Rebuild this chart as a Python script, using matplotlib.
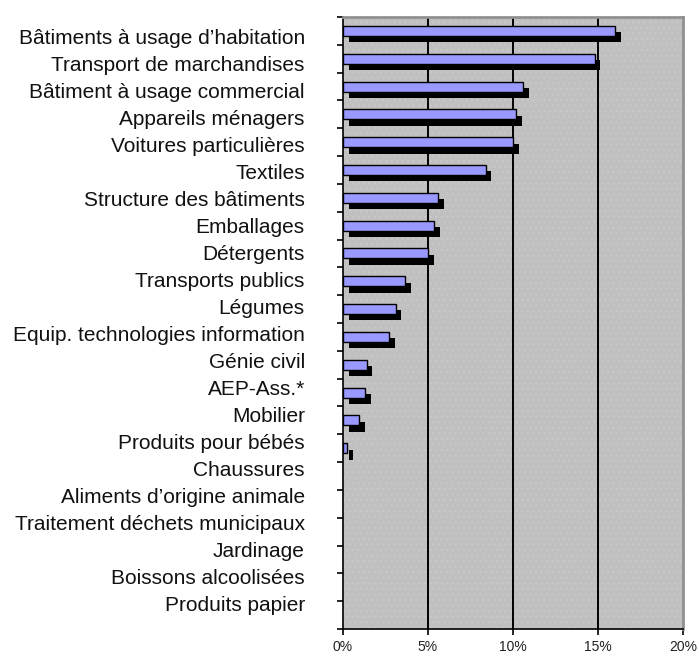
import matplotlib
matplotlib.use("Agg")
import matplotlib.pyplot as plt
import numpy as np

categories = [
    "Bâtiments à usage d’habitation",
    "Transport de marchandises",
    "Bâtiment à usage commercial",
    "Appareils ménagers",
    "Voitures particulières",
    "Textiles",
    "Structure des bâtiments",
    "Emballages",
    "Détergents",
    "Transports publics",
    "Légumes",
    "Equip. technologies information",
    "Génie civil",
    "AEP-Ass.*",
    "Mobilier",
    "Produits pour bébés",
    "Chaussures",
    "Aliments d’origine animale",
    "Traitement déchets municipaux",
    "Jardinage",
    "Boissons alcoolisées",
    "Produits papier",
]
values = [16.0, 14.8, 10.6, 10.2, 10.0, 8.4, 5.6, 5.35, 5.0, 3.65, 3.1, 2.7,
          1.4, 1.3, 0.95, 0.25, 0, 0, 0, 0, 0, 0]
xticks = [0, 5, 10, 15, 20]
xticklabels = ["0%", "5%", "10%", "15%", "20%"]

plt.rcParams['font.family'] = ['Liberation Sans', 'DejaVu Sans']
plt.rcParams['hatch.linewidth'] = 0.6

W, H = 699, 657
fig = plt.figure(figsize=(W / 100, H / 100), dpi=100)
ax = fig.add_axes([343 / W, 1 - 629 / H, (683 - 343) / W, (629 - 17) / H])
ax.set_facecolor('#c0c0c0')
ax.add_patch(plt.Rectangle((0, 0), 1, 1, transform=ax.transAxes,
                           facecolor='none', edgecolor='#cbcbcb',
                           hatch='...', linewidth=0, zorder=0))

n = len(categories)
y = np.arange(n)
h = 0.36
dx = 0.33
dy = 0.23
vals = np.array(values)
mask = vals > 0
ax.barh(y[mask] + dy, vals[mask], height=h, left=dx, color='black', zorder=2)
ax.barh(y[mask], vals[mask], height=h, color='#9999ff', edgecolor='black',
        linewidth=1.0, zorder=3)

ax.set_xlim(0, 20)
ax.set_ylim(n - 0.5, -0.5)
ax.set_xticks(xticks)
ax.set_xticklabels(xticklabels, fontsize=10, color='#222222')
for gx in xticks[1:-1]:
    ax.axvline(gx, color='black', linewidth=1.4, zorder=1)

ax.set_yticks(np.arange(n + 1) - 0.5)
ax.set_yticklabels([])
ax.tick_params(axis='y', length=4, width=1.2, direction='out')
ax.tick_params(axis='x', length=4, width=1.2, direction='out', pad=4)

ax.spines['left'].set_color('black')
ax.spines['left'].set_linewidth(1.2)
ax.spines['bottom'].set_color('black')
ax.spines['bottom'].set_linewidth(1.2)
ax.spines['top'].set_color('#909090')
ax.spines['top'].set_linewidth(2)
ax.spines['right'].set_color('#909090')
ax.spines['right'].set_linewidth(2)

# category labels (slightly tighter spacing than the plot rows, as in the source)
lax = fig.add_axes([343 / W, 1 - 617 / H, 0.001, (617 - 23) / H])
lax.set_ylim(n - 0.5, -0.5)
lax.set_yticks(y)
lax.set_yticklabels(categories, fontsize=15, color='#111111')
lax.tick_params(axis='y', length=0, pad=27.5)
lax.set_xticks([])
for s in lax.spines.values():
    s.set_visible(False)
lax.patch.set_visible(False)

fig.savefig('out.png', dpi=100)
